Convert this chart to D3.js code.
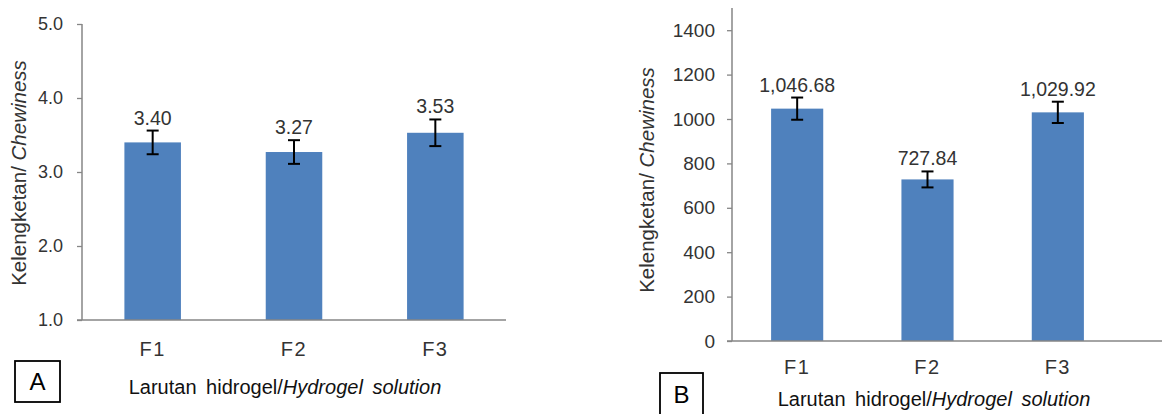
<!DOCTYPE html>
<html>
<head>
<meta charset="utf-8">
<script src="https://cdn.jsdelivr.net/npm/d3@7/dist/d3.min.js"></script>
<style>
  html, body { margin: 0; padding: 0; background: #fff; }
  svg { display: block; font-family: "Liberation Sans", Arial, sans-serif; }
</style>
</head>
<body>
<svg id="chart" width="1162" height="414"></svg>
<script>
const categories = ['F1', 'F2', 'F3'];

// panel A
const valuesA = [3.40, 3.27, 3.53];
const errorsA = [0.16, 0.16, 0.18];
const labelsA = ['3.40', '3.27', '3.53'];
const ticksA = [1.0, 2.0, 3.0, 4.0, 5.0];

// panel B
const valuesB = [1046.68, 727.84, 1029.92];
const errorsB = [50, 36, 48];
const labelsB = ['1,046.68', '727.84', '1,029.92'];
const ticksB = [0, 200, 400, 600, 800, 1000, 1200, 1400];

const BAR = '#4f81bd';
const AXIS = '#868686';
const TEXT = '#333';

const svg = d3.select('#chart');

function drawPanel(cfg) {
  const g = svg.append('g');
  const x = d3.scaleBand().domain(categories).range([cfg.x0, cfg.x1])
    .paddingInner(0.6).paddingOuter(0.3);
  const y = d3.scaleLinear().domain(cfg.domain).range([cfg.yBottom, cfg.yTop]);
  const cx = d => x(d) + x.bandwidth() / 2;

  // bars
  g.selectAll('rect.bar').data(categories).enter().append('rect')
    .attr('class', 'bar')
    .attr('x', d => x(d))
    .attr('width', x.bandwidth())
    .attr('y', (d, i) => y(cfg.values[i]))
    .attr('height', (d, i) => y(cfg.domain[0]) - y(cfg.values[i]))
    .attr('fill', BAR);

  // y axis
  const yAxis = d3.axisLeft(y).tickValues(cfg.ticks).tickSize(5).tickPadding(cfg.tickPad)
    .tickFormat(cfg.fmt);
  const ya = g.append('g').attr('transform', `translate(${cfg.x0},0)`).call(yAxis);
  ya.select('.domain').remove();
  ya.selectAll('line').attr('stroke', AXIS).attr('stroke-width', 1.3);
  ya.selectAll('text').attr('fill', TEXT).attr('font-size', cfg.tickFont);
  g.append('line').attr('x1', cfg.x0).attr('x2', cfg.x0)
    .attr('y1', cfg.yTop).attr('y2', cfg.yBottom)
    .attr('stroke', AXIS).attr('stroke-width', 1.5);
  // x axis line
  g.append('line').attr('x1', cfg.x0 - 5).attr('x2', cfg.xAxisEnd)
    .attr('y1', cfg.yBottom).attr('y2', cfg.yBottom)
    .attr('stroke', AXIS).attr('stroke-width', 1.5);

  // error bars
  const eb = g.selectAll('g.err').data(categories).enter().append('g')
    .attr('class', 'err')
    .attr('stroke', '#000').attr('stroke-width', 2);
  eb.append('line')
    .attr('x1', cx).attr('x2', cx)
    .attr('y1', (d, i) => y(cfg.values[i] + cfg.errors[i]))
    .attr('y2', (d, i) => y(cfg.values[i] - cfg.errors[i]));
  eb.append('line')
    .attr('x1', d => cx(d) - 6).attr('x2', d => cx(d) + 6)
    .attr('y1', (d, i) => y(cfg.values[i] + cfg.errors[i]))
    .attr('y2', (d, i) => y(cfg.values[i] + cfg.errors[i]));
  eb.append('line')
    .attr('x1', d => cx(d) - 6).attr('x2', d => cx(d) + 6)
    .attr('y1', (d, i) => y(cfg.values[i] - cfg.errors[i]))
    .attr('y2', (d, i) => y(cfg.values[i] - cfg.errors[i]));

  // value labels
  g.selectAll('text.val').data(categories).enter().append('text')
    .attr('class', 'val')
    .attr('x', cx)
    .attr('y', (d, i) => y(cfg.values[i] + cfg.errors[i]) - 6)
    .attr('text-anchor', 'middle')
    .attr('fill', TEXT).attr('font-size', 19.5)
    .text((d, i) => cfg.labels[i]);

  // category labels
  g.selectAll('text.cat').data(categories).enter().append('text')
    .attr('class', 'cat')
    .attr('x', cx)
    .attr('y', cfg.yBottom + cfg.catDy)
    .attr('text-anchor', 'middle')
    .attr('fill', TEXT).attr('font-size', 20)
    .attr('letter-spacing', 1.5)
    .text(d => d);

  // y title
  const yt = g.append('text')
    .attr('transform', `translate(${cfg.yTitleX},${cfg.yTitleY}) rotate(-90)`)
    .attr('dy', '0.35em')
    .attr('text-anchor', 'middle').attr('fill', TEXT).attr('font-size', 20.5);
  yt.append('tspan').text('Kelengketan/ ');
  yt.append('tspan').attr('font-style', 'italic').text('Chewiness');

  // x title
  const xt = g.append('text')
    .attr('x', cfg.xTitleX).attr('y', cfg.xTitleY)
    .attr('text-anchor', 'middle').attr('fill', '#111').attr('font-size', 20)
    .attr('word-spacing', 4);
  xt.append('tspan').text('Larutan hidrogel/');
  xt.append('tspan').attr('font-style', 'italic').text('Hydrogel solution');

  // panel letter box
  const b = cfg.box;
  g.append('rect').attr('x', b[0]).attr('y', b[1]).attr('width', b[2]).attr('height', b[3])
    .attr('fill', '#fff').attr('stroke', '#000').attr('stroke-width', 1.8);
  g.append('text').attr('x', b[0] + b[2] / 2).attr('y', cfg.letterY)
    .attr('text-anchor', 'middle').attr('fill', '#000').attr('font-size', 24)
    .text(cfg.letter);
}

drawPanel({
  values: valuesA, errors: errorsA, labels: labelsA, ticks: ticksA,
  domain: [1, 5], fmt: d3.format('.1f'), tickFont: 18, tickPad: 14,
  x0: 82, x1: 506, xAxisEnd: 506, yTop: 24, yBottom: 320, catDy: 36,
  yTitleX: 19, yTitleY: 173, xTitleX: 285, xTitleY: 394,
  box: [15, 361, 45, 41], letter: 'A', letterY: 390
});

drawPanel({
  values: valuesB, errors: errorsB, labels: labelsB, ticks: ticksB,
  domain: [0, 1500], fmt: d3.format('d'), tickFont: 19, tickPad: 12,
  x0: 732, x1: 1123, xAxisEnd: 1162, yTop: 8, yBottom: 341, catDy: 33,
  yTitleX: 647, yTitleY: 180, xTitleX: 934, xTitleY: 406,
  box: [660, 373, 43, 45], letter: 'B', letterY: 403
});
</script>
</body>
</html>
